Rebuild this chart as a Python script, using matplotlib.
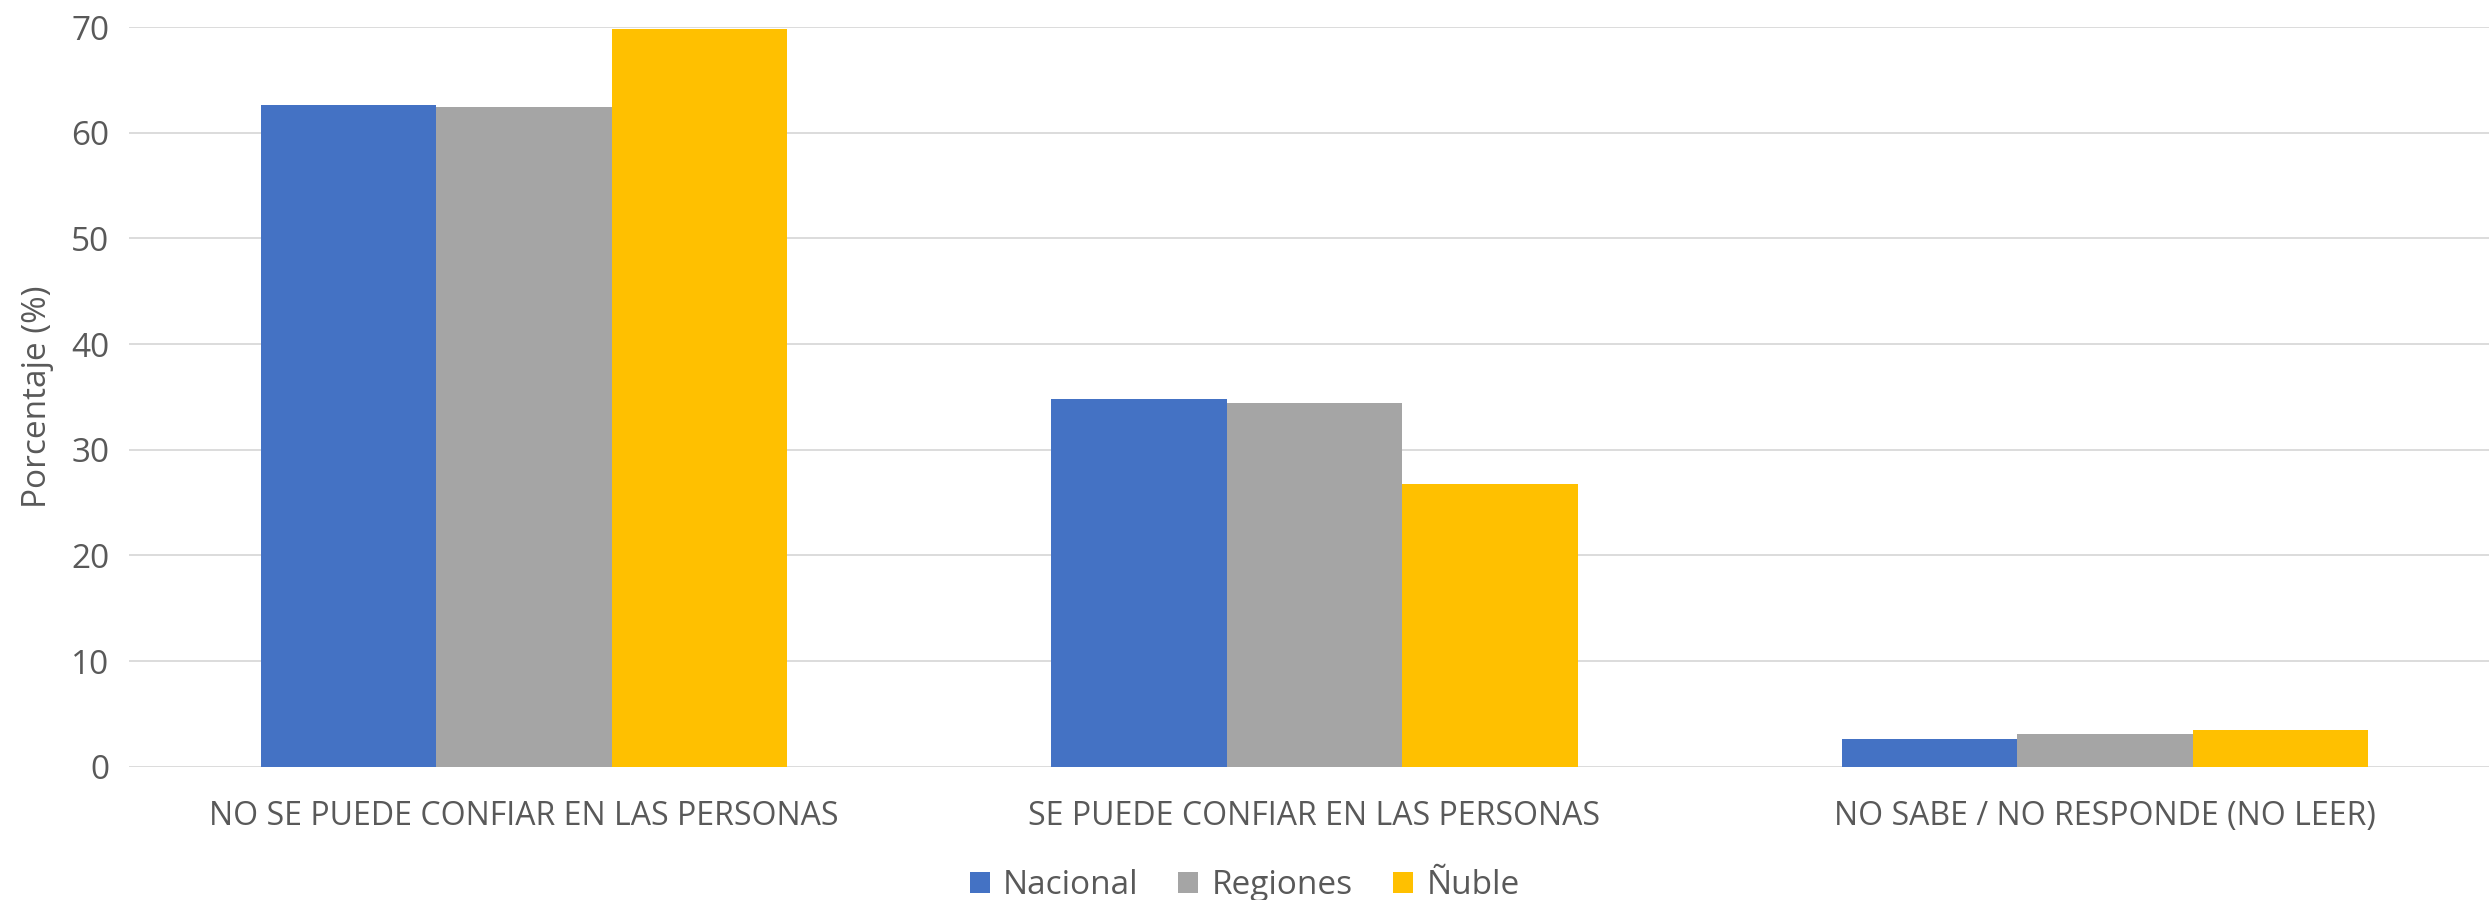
import numpy as np
import matplotlib as mpl
import matplotlib.pyplot as plt
from matplotlib.patches import Patch

mpl.rcParams.update({
    "font.family": ["Open Sans", "DejaVu Sans"],
    "axes.spines.right": False,
    "axes.spines.top": False,
    "axes.spines.left": False,
    "axes.spines.bottom": False,
})

# datos
CATEGORIAS = ["NO SE PUEDE CONFIAR EN LAS PERSONAS",
              "SE PUEDE CONFIAR EN LAS PERSONAS",
              "NO SABE / NO RESPONDE (NO LEER)"]
SERIES = ["Nacional", "Regiones", "Ñuble"]
NACIONAL = [62.6, 34.8, 2.6]
REGIONES = [62.4, 34.4, 3.1]
NUBLE = [69.8, 26.8, 3.5]
Y_TICKS = [0, 10, 20, 30, 40, 50, 60, 70]

COLORES = ["#4472C4", "#A5A5A5", "#FFC000"]
C_TEXT = "#595959"
C_GRID = "#D9D9D9"


def main():
    fig = plt.figure(figsize=(24.89, 9.0), dpi=100)
    ax = fig.add_axes([0.0517, 0.148, 0.9528, 0.822])

    x = np.arange(len(CATEGORIAS))
    w = 0.222
    for i, (vals, col, name) in enumerate(zip([NACIONAL, REGIONES, NUBLE], COLORES, SERIES)):
        ax.bar(x + (i - 1) * w, vals, width=w, color=col, label=name,
               edgecolor="none", zorder=2)

    ax.set_xlim(-0.5, 2.5)
    ax.set_ylim(0, 70)
    ax.set_yticks(Y_TICKS)
    ax.yaxis.grid(True, color=C_GRID, lw=1.3, zorder=0)
    ax.set_axisbelow(True)
    ax.set_xticks(x)
    ax.set_xticklabels(CATEGORIAS, fontsize=23, color=C_TEXT)
    ax.tick_params(axis="both", length=0)
    ax.tick_params(axis="x", pad=24)
    ax.tick_params(axis="y", pad=14, labelsize=24, labelcolor=C_TEXT)
    ax.set_ylabel("Porcentaje (%)", fontsize=24, color=C_TEXT, labelpad=12)

    handles = [Patch(facecolor=c, edgecolor="none", label=s) for c, s in zip(COLORES, SERIES)]
    fig.legend(handles=handles, loc="lower center", bbox_to_anchor=(0.5, -0.036),
               ncol=3, frameon=False, fontsize=24, handlelength=0.6,
               handleheight=0.6, handletextpad=0.4, columnspacing=1.2,
               labelcolor=C_TEXT)

    fig.savefig("out.png", dpi=100)
    plt.close(fig)


if __name__ == "__main__":
    main()
